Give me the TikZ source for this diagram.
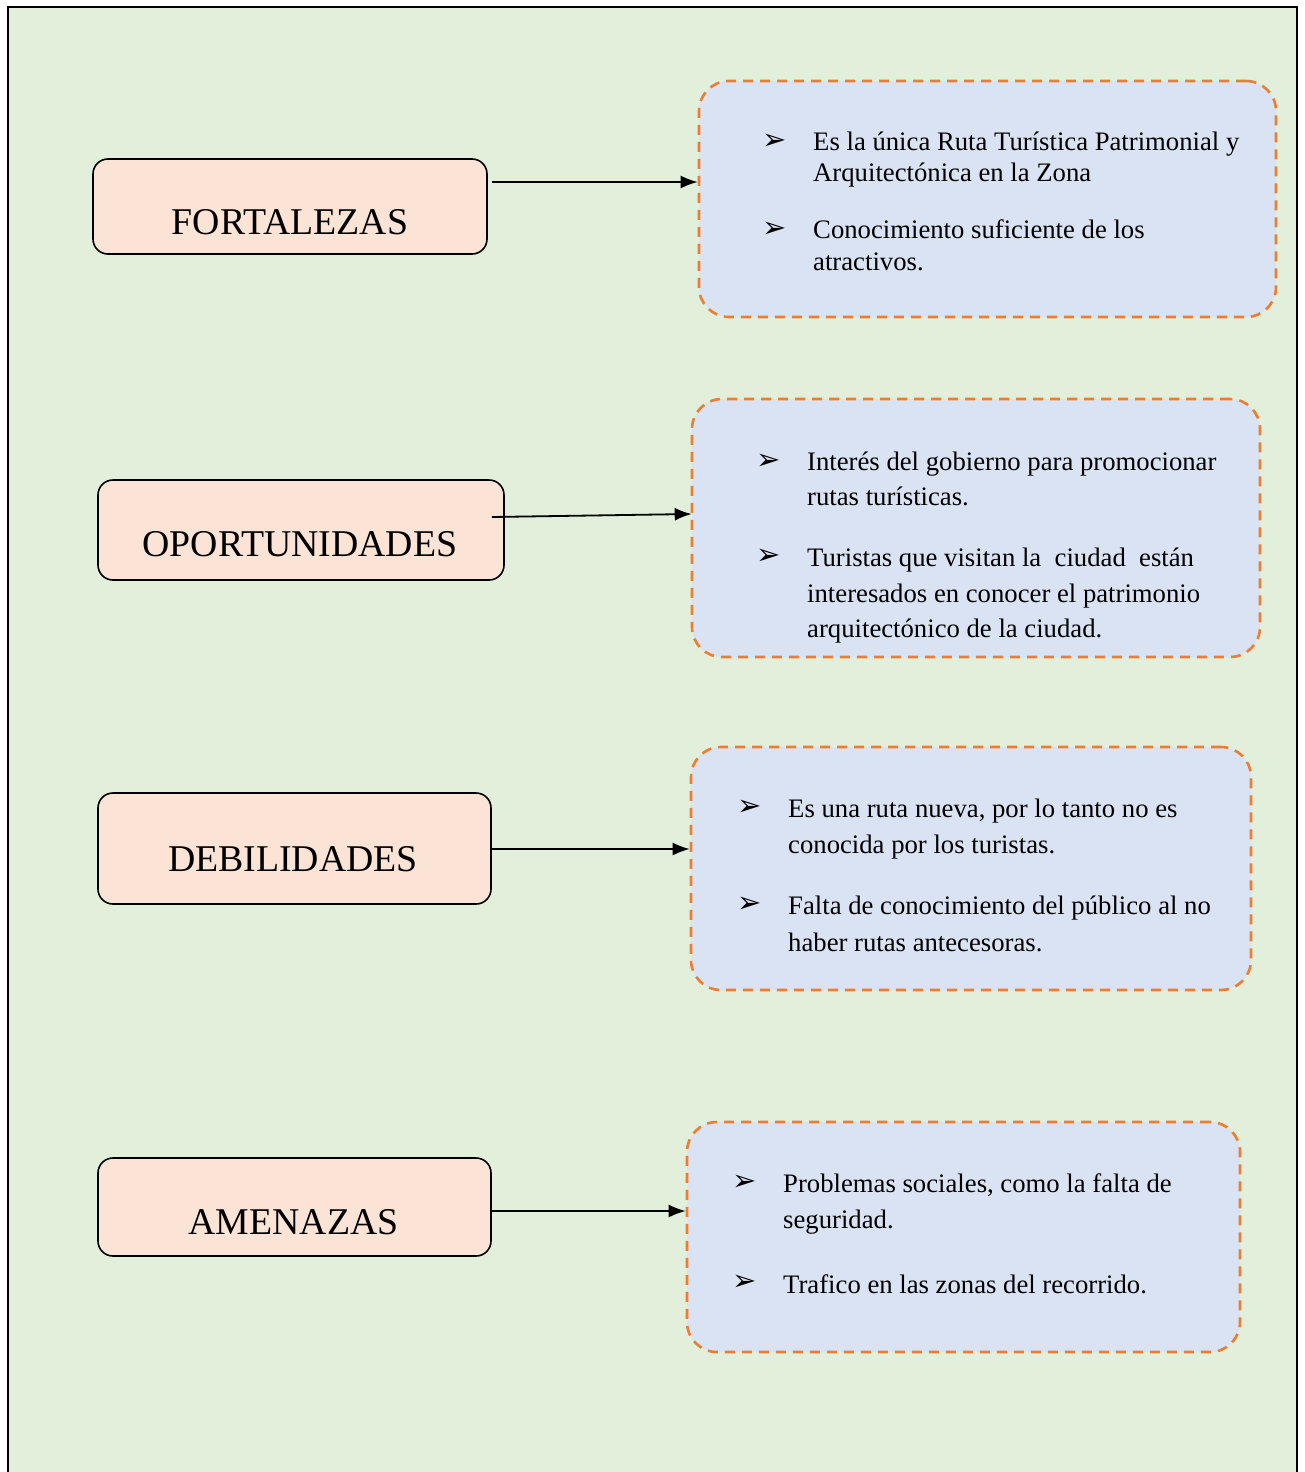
\documentclass[tikz,border=0pt]{standalone}
\usepackage{fontspec}
\setmainfont{Liberation Serif}
\newfontfamily\dingfont{DejaVu Sans}
\usepackage{tikz}
\usetikzlibrary{arrows}
\usetikzlibrary{arrows.meta}
\usetikzlibrary{calc}

\definecolor{bggreen}{HTML}{E2EFDA}
\definecolor{peach}{HTML}{FBE4D5}
\definecolor{paleblue}{HTML}{DAE3F3}
\definecolor{dashorange}{HTML}{ED7D31}

\begin{document}
\begin{tikzpicture}
[x=1pt,y=-1pt,
  framedecorate/.style={draw=black,line width=2.2pt,fill=bggreen},%
  leftbox/.style={shape=rectangle,draw,line width=1.6pt,fill=peach,rounded corners=15pt,inner sep=0pt},%
  listbox/.style={shape=rectangle,draw=dashorange,line width=2.6pt,dash pattern=on 10pt off 7pt,fill=paleblue,rounded corners=30pt,inner sep=0pt},%
  titletext/.style={anchor=base,inner sep=0pt,font=\fontsize{37.8}{44}\selectfont},%
  itemtext/.style={anchor=base west,inner sep=0pt,font=\fontsize{26.7}{30}\selectfont},%
  bulletmark/.style={inner sep=0pt,font=\dingfont\fontsize{29}{30}\selectfont},%
  linedecorate/.style={-{Latex[length=17pt,width=13pt]},line width=1.8pt}]
\useasboundingbox (0,0) rectangle (1304,1472);
%% outer frame, open at the bottom
\begin{scope}
\clip (0,0) rectangle (1304,1472);
\path[framedecorate] (8,1490) -- (8,7) -- (1297,7) -- (1297,1490);
\end{scope}
%% left boxes
\foreach \nodename/\x/\y/\w/\h in {fort/290/206.5/394/95, opor/301/530/406/100,
  debi/294.5/848.5/393/111, amen/294.5/1207/393/98}
{
  \node (\nodename) at (\x,\y) [leftbox,minimum width=\w pt,minimum height=\h pt] {};
}
\node (fortname) at (290,234) [titletext] {FORTALEZAS};
\node (oporname) at (300,556) [titletext] {OPORTUNIDADES};
\node (debiname) at (293,871) [titletext] {DEBILIDADES};
\node (amenname) at (293.5,1234) [titletext] {AMENAZAS};
%% right boxes
\foreach \nodename/\x/\y/\w/\h in {fortlist/987.5/199/577/236, oporlist/976/528/568/258,
  debilist/971/868.5/560/243, amenlist/963.5/1237/553/230}
{
  \node (\nodename) at (\x,\y) [listbox,minimum width=\w pt,minimum height=\h pt] {};
}
%% bullets
\foreach \nodename/\x/\y in {b1/775/142, b2/775/230, b3/769/462, b4/769/557,
  b5/750/808, b6/750/905, b7/745/1183, b8/745/1283}
{
  \node (\nodename) at (\x,\y) [bulletmark] {➢};
}
%% item lines
\foreach \nodename/\x/\y/\txt in {
  f1/813/150/{Es la única Ruta Turística Patrimonial y},
  f2/813/181/{Arquitectónica en la Zona},
  f3/813/238/{Conocimiento suficiente de los},
  f4/813/270/{atractivos.},
  o1/807/470/{Interés del gobierno para promocionar},
  o2/807/505/{rutas turísticas.},
  o3/807/566/{Turistas que visitan la\ \ ciudad\ \ están},
  o4/807/602/{interesados en conocer el patrimonio},
  o5/807/637/{arquitectónico de la ciudad.},
  d1/788/817/{Es una ruta nueva, por lo tanto no es},
  d2/788/853/{conocida por los turistas.},
  d3/788/914/{Falta de conocimiento del público al no},
  d4/788/951/{haber rutas antecesoras.},
  a1/783/1192/{Problemas sociales, como la falta de},
  a2/783/1228/{seguridad.},
  a3/783/1293/{Trafico en las zonas del recorrido.}}
{
  \node (\nodename) at (\x,\y) [itemtext] {\txt};
}
%% arrows
\draw[linedecorate] ($(fort.east |- 0,182)+(4,0)$) -- (fortlist.west |- 0,182);
\draw[linedecorate] ($(opor.east |- 0,517)+(-13,0)$) -- ($(oporlist.west |- 0,514)+(1,0)$);
\draw[linedecorate] (debi.east |- 0,849) -- (debilist.west |- 0,849);
\draw[linedecorate] (amen.east |- 0,1211) -- (amenlist.west |- 0,1211);
\end{tikzpicture}
\end{document}
